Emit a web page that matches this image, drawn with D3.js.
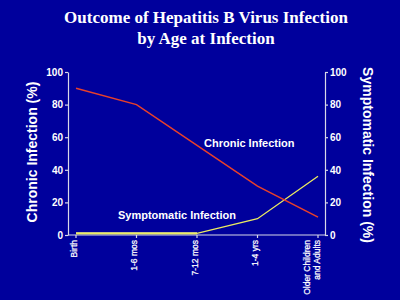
<!DOCTYPE html>
<html>
<head>
<meta charset="utf-8">
<script src="https://cdn.jsdelivr.net/npm/d3@7"></script>
<style>
  html, body { margin: 0; padding: 0; background: #00009c; }
  svg { display: block; }
  text { fill: #fff; }
</style>
</head>
<body>
<div id="chart"></div>
<script>
// Data
const ages = ["Birth", "1-6 mos", "7-12 mos", "1-4 yrs", "Older Children|and Adults"];
const chronic = [90, 80, 55, 30, 11];
const symptomatic = [1, 1, 1, 10, 36];
const yTicks = [0, 20, 40, 60, 80, 100];

const W = 400, H = 300;

const svg = d3.select("#chart").append("svg")
  .attr("width", W).attr("height", H);

svg.append("rect").attr("width", W).attr("height", H).attr("fill", "#00009c");

// title
const title = svg.append("text")
  .attr("text-anchor", "middle")
  .style("font-family", "'Liberation Serif', 'Times New Roman', serif")
  .style("font-weight", "bold")
  .style("font-size", "17px");
title.append("tspan").attr("x", 206).attr("y", 23).text("Outcome of Hepatitis B Virus Infection");
title.append("tspan").attr("x", 206).attr("y", 44).text("by Age at Infection");

const x = d3.scalePoint()
  .domain(ages)
  .range([76, 318]);

const y = d3.scaleLinear()
  .domain([0, 100])
  .range([235, 72]);

const axisColor = "#d8d8e8";
const sans = "'Liberation Sans', Arial, sans-serif";

function styleAxis(g) {
  g.selectAll("path, line").attr("stroke", axisColor).attr("stroke-width", 1.2);
  g.selectAll("text")
    .style("font-family", sans)
    .style("font-weight", "bold")
    .style("font-size", "10px")
    .attr("fill", "#fff");
}

// left axis
svg.append("g")
  .attr("transform", "translate(68,0)")
  .call(d3.axisLeft(y).tickValues(yTicks).tickSize(3).tickPadding(2).tickSizeOuter(0))
  .call(styleAxis);

// right axis
svg.append("g")
  .attr("transform", "translate(325,0)")
  .call(d3.axisRight(y).tickValues(yTicks).tickSize(3).tickPadding(2).tickSizeOuter(0))
  .call(styleAxis);

// bottom axis
const xAxis = svg.append("g")
  .attr("transform", "translate(0,235)");
xAxis.append("line")
  .attr("x1", 68).attr("x2", 325)
  .attr("stroke", axisColor).attr("stroke-width", 1.2);
xAxis.selectAll("line.tick")
  .data(ages)
  .join("line")
  .attr("class", "tick")
  .attr("x1", d => x(d)).attr("x2", d => x(d))
  .attr("y1", 0).attr("y2", 3)
  .attr("stroke", axisColor).attr("stroke-width", 1.2);
const xl = xAxis.selectAll("text.xl")
  .data(ages)
  .join("text")
  .attr("class", "xl")
  .attr("text-anchor", "end")
  .attr("transform", d => `translate(${x(d) - 2},5) rotate(-90)`)
  .style("font-family", sans)
  .style("font-size", "8.5px")
  .attr("stroke", "#fff")
  .attr("stroke-width", 0.25);
xl.each(function(d) {
  const parts = d.split("|");
  const t = d3.select(this);
  parts.forEach((p, i) => {
    t.append("tspan")
      .attr("x", 0)
      .attr("dy", i === 0 ? (parts.length > 1 ? "-0.75em" : "0.35em") : "1.2em")
      .text(p);
  });
});

// axis titles
svg.append("text")
  .attr("transform", "translate(37,152) rotate(-90)")
  .attr("text-anchor", "middle")
  .style("font-family", sans)
  .style("font-weight", "bold")
  .style("font-size", "14px")
  .text("Chronic Infection (%)");

svg.append("text")
  .attr("transform", "translate(363,155) rotate(90)")
  .attr("text-anchor", "middle")
  .style("font-family", sans)
  .style("font-weight", "bold")
  .style("font-size", "14px")
  .text("Symptomatic Infection (%)");

// lines
const line = d3.line()
  .x((d, i) => x(ages[i]))
  .y(d => y(d));

// flat early part of symptomatic line looks greyish / thicker
const flatPart = symptomatic.slice(0, 3);
svg.append("path")
  .attr("d", line(flatPart))
  .attr("fill", "none")
  .attr("stroke", "#b8b890")
  .attr("stroke-width", 2.6);

svg.append("path")
  .attr("d", line(symptomatic))
  .attr("fill", "none")
  .attr("stroke", "#ecec60")
  .attr("stroke-width", 1.3);

svg.append("path")
  .attr("d", line(chronic))
  .attr("fill", "none")
  .attr("stroke", "#e8402a")
  .attr("stroke-width", 1.5);

// inline series labels
svg.append("text")
  .attr("x", 204).attr("y", 147)
  .style("font-family", sans)
  .style("font-weight", "bold")
  .style("font-size", "11px")
  .text("Chronic Infection");

svg.append("text")
  .attr("x", 118).attr("y", 219)
  .style("font-family", sans)
  .style("font-weight", "bold")
  .style("font-size", "11px")
  .text("Symptomatic Infection");
</script>
</body>
</html>
